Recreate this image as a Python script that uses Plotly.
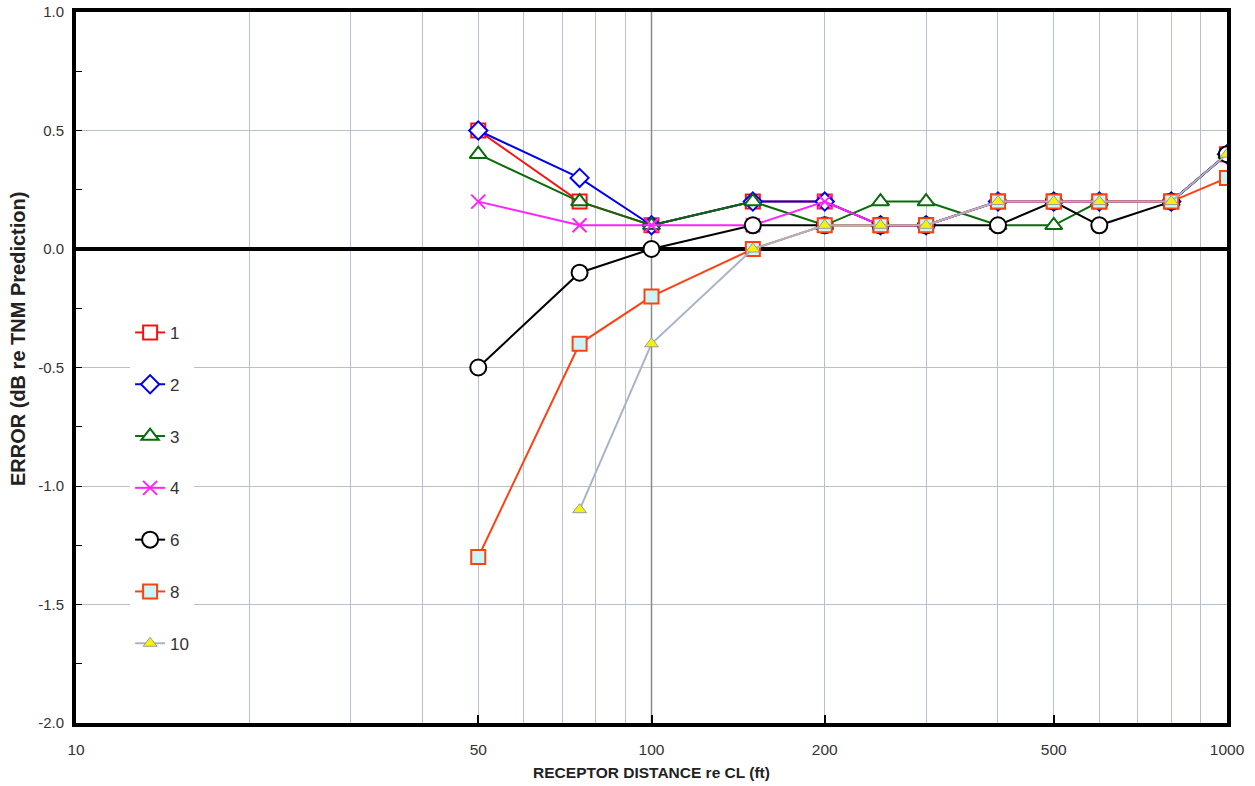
import plotly.graph_objects as go

distance = [50, 75, 100, 150, 200, 250, 300, 400, 500, 600, 800, 1000]

s1 = [0.5, 0.2, 0.1, 0.2, 0.2, 0.1, 0.1, 0.2, 0.2, 0.2, 0.2, 0.4]
s2 = [0.5, 0.3, 0.1, 0.2, 0.2, 0.1, 0.1, 0.2, 0.2, 0.2, 0.2, 0.4]
s3 = [0.4, 0.2, 0.1, 0.2, 0.1, 0.2, 0.2, 0.1, 0.1, 0.2, 0.2, 0.4]
s4 = [0.2, 0.1, 0.1, 0.1, 0.2, 0.1, 0.1, 0.2, 0.2, 0.2, 0.2, 0.4]
s6 = [-0.5, -0.1, 0.0, 0.1, 0.1, 0.1, 0.1, 0.1, 0.2, 0.1, 0.2, 0.4]
s8 = [-1.3, -0.4, -0.2, 0.0, 0.1, 0.1, 0.1, 0.2, 0.2, 0.2, 0.2, 0.3]
distance10 = [75, 100, 150, 200, 250, 300, 400, 500, 600, 800, 1000]
s10 = [-1.1, -0.4, 0.0, 0.1, 0.1, 0.1, 0.2, 0.2, 0.2, 0.2, 0.4]

x_ticks = [10, 50, 100, 200, 500, 1000]
x_grid = [20, 30, 40, 50, 60, 70, 80, 90, 200, 300, 400, 500, 600, 700, 800, 900]
y_ticks = [1.0, 0.5, 0.0, -0.5, -1.0, -1.5, -2.0]

fig = go.Figure()

# darker gridline at 100
fig.add_trace(go.Scatter(x=[100, 100], y=[-2, 1], mode="lines",
                         line=dict(color="#8a8a8a", width=1.5),
                         showlegend=False, hoverinfo="skip"))

series = [
    ("1", distance, s1, dict(color="#ff1010", width=2),
     dict(symbol="square", size=14, color="white", line=dict(color="#ff1010", width=2))),
    ("2", distance, s2, dict(color="#0000ee", width=2),
     dict(symbol="diamond", size=14, color="white", line=dict(color="#0000ee", width=2))),
    ("3", distance, s3, dict(color="#0a6b0a", width=2),
     dict(symbol="triangle-up", size=15, color="white", line=dict(color="#0a6b0a", width=2))),
    ("4", distance, s4, dict(color="#ff22ff", width=2),
     dict(symbol="x-thin-open", size=14, color="#ff22ff", line=dict(color="#ff22ff", width=2))),
    ("6", distance, s6, dict(color="#000000", width=2),
     dict(symbol="circle", size=16, color="white", line=dict(color="#000000", width=2))),
    ("8", distance, s8, dict(color="#ff4010", width=2),
     dict(symbol="square", size=14, color="#ccf6f6", line=dict(color="#ff4010", width=2))),
    ("10", distance10, s10, dict(color="#aab4c8", width=2),
     dict(symbol="triangle-up", size=12, color="#f2f20a", line=dict(color="#9a9a9a", width=1))),
]

for name, xs, ys, ln, mk in series:
    fig.add_trace(go.Scatter(x=xs, y=ys, mode="lines+markers", name=name,
                             legendgroup=name, line=ln, marker=mk))

fig.update_layout(
    width=1255, height=786,
    margin=dict(l=76, r=28, t=12, b=63, autoexpand=False),
    paper_bgcolor="white", plot_bgcolor="white",
    font=dict(family="Liberation Sans, Arial, sans-serif", color="#333333"),
    legend=dict(x=0.047, y=0.574, xanchor="left", yanchor="top",
                bgcolor="white", font=dict(size=17, color="#333333"),
                tracegroupgap=26.7, itemwidth=30),
)

# y-axis title placed as a rotated annotation (it sits above the axis centre in the reference)
fig.add_annotation(
    text="<b>ERROR (dB re TNM Prediction)</b>", textangle=-90,
    xref="paper", yref="paper", x=-0.0504, y=0.54,
    xanchor="center", yanchor="middle", showarrow=False,
    font=dict(size=20, color="#222222"),
)

fig.update_xaxes(
    type="log", range=[1, 3], automargin=False,
    tickvals=x_ticks, ticktext=[str(v) for v in x_ticks],
    ticks="inside", ticklen=8, tickcolor="black", tickwidth=2,
    tickfont=dict(size=15.5, color="#333333"), ticklabelstandoff=9,
    showgrid=False,
    minor=dict(tickvals=x_grid, showgrid=True, gridcolor="#b8c0d0", gridwidth=1, ticks=""),
    showline=True, linecolor="black", linewidth=4, mirror=True,
    title=dict(text="<b>RECEPTOR DISTANCE re CL (ft)</b>", font=dict(size=15.5, color="#222222"), standoff=12),
)

fig.update_yaxes(
    range=[-2.0, 1.0], automargin=False,
    tickvals=y_ticks, ticktext=["%.1f" % v for v in y_ticks],
    ticks="inside", ticklen=6, tickcolor="black", tickwidth=1,
    tickfont=dict(size=15, color="#333333"), ticklabelstandoff=5,
    showgrid=True, gridcolor="#b8c0d0", gridwidth=1,
    minor=dict(dtick=0.25, ticks="inside", ticklen=6, tickcolor="black", showgrid=False),
    zeroline=True, zerolinecolor="black", zerolinewidth=4,
    showline=True, linecolor="black", linewidth=4, mirror=True,
)

fig.write_html("out.html", config={"displayModeBar": False},
               post_script="document.body.style.margin='0';")
